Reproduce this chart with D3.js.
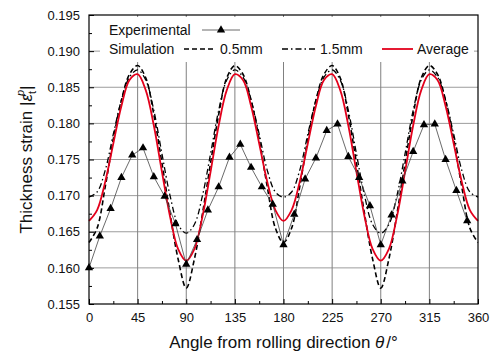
<!DOCTYPE html>
<html>
<head>
<meta charset="utf-8">
<script src="https://cdn.jsdelivr.net/npm/d3@7/dist/d3.min.js"></script>
<style>
  body { margin: 0; background: #fff; }
  text { font-family: "Liberation Sans", Arial, sans-serif; fill: #111; }
</style>
</head>
<body>
<svg id="chart" width="493" height="355"></svg>
<script>
// experimental points, every 10 degrees
const expAngles = [0, 10, 20, 30, 40, 50, 60, 70, 80, 90, 100, 110, 120, 130, 140, 150, 160, 170,
  180, 190, 200, 210, 220, 230, 240, 250, 260, 270, 280, 290, 300, 310, 320, 330, 340, 350];
const expValues = [0.1600, 0.1644, 0.1682, 0.1725, 0.1756, 0.1766, 0.1726, 0.1699, 0.1661, 0.1605,
  0.1639, 0.1680, 0.1712, 0.1753, 0.1771, 0.1739, 0.1712, 0.1688, 0.1632, 0.1674, 0.1723, 0.1752,
  0.1790, 0.1799, 0.1754, 0.1725, 0.1686, 0.1632, 0.1673, 0.1720, 0.1761, 0.1798, 0.1799, 0.1750,
  0.1707, 0.1665];

// simulated curves, read every 7.5 degrees
const simAngles = [0, 7.5, 15, 22.5, 30, 37.5, 45, 52.5, 60, 67.5, 75, 82.5, 90, 97.5, 105, 112.5,
  120, 127.5, 135, 142.5, 150, 157.5, 165, 172.5, 180, 187.5, 195, 202.5, 210, 217.5, 225, 232.5,
  240, 247.5, 255, 262.5, 270, 277.5, 285, 292.5, 300, 307.5, 315, 322.5, 330, 337.5, 345, 352.5, 360];
const sim05 = [0.1635, 0.1655, 0.1712, 0.1778, 0.1832, 0.1868, 0.1880, 0.1863, 0.1812, 0.1745, 0.1675,
  0.1612, 0.1572, 0.1612, 0.1675, 0.1745, 0.1812, 0.1863, 0.1880, 0.1868, 0.1832, 0.1778, 0.1712,
  0.1655, 0.1635, 0.1655, 0.1712, 0.1778, 0.1832, 0.1868, 0.1880, 0.1863, 0.1812, 0.1745, 0.1675,
  0.1612, 0.1572, 0.1612, 0.1675, 0.1745, 0.1812, 0.1863, 0.1880, 0.1868, 0.1832, 0.1778, 0.1712,
  0.1655, 0.1635];
const sim15 = [0.1698, 0.1705, 0.1735, 0.1785, 0.1832, 0.1864, 0.1874, 0.1860, 0.1818, 0.1758, 0.1700,
  0.1660, 0.1648, 0.1660, 0.1700, 0.1758, 0.1818, 0.1860, 0.1874, 0.1864, 0.1832, 0.1785, 0.1735,
  0.1705, 0.1698, 0.1705, 0.1735, 0.1785, 0.1832, 0.1864, 0.1874, 0.1860, 0.1818, 0.1758, 0.1700,
  0.1660, 0.1648, 0.1660, 0.1700, 0.1758, 0.1818, 0.1860, 0.1874, 0.1864, 0.1832, 0.1785, 0.1735,
  0.1705, 0.1698];
const simAvg = [0.1665, 0.1680, 0.1719, 0.1772, 0.1824, 0.1860, 0.1868, 0.1846, 0.1797, 0.1733, 0.1671,
  0.1626, 0.1610, 0.1626, 0.1671, 0.1733, 0.1797, 0.1846, 0.1868, 0.1860, 0.1824, 0.1772, 0.1719,
  0.1680, 0.1665, 0.1680, 0.1719, 0.1772, 0.1824, 0.1860, 0.1868, 0.1846, 0.1797, 0.1733, 0.1671,
  0.1626, 0.1610, 0.1626, 0.1671, 0.1733, 0.1797, 0.1846, 0.1868, 0.1860, 0.1824, 0.1772, 0.1719,
  0.1680, 0.1665];

const xTicks = [0, 45, 90, 135, 180, 225, 270, 315, 360];
const yTicks = [0.155, 0.160, 0.165, 0.170, 0.175, 0.180, 0.185, 0.190, 0.195];

const width = 493, height = 355;
const margin = { top: 15, right: 15, bottom: 51, left: 89 };

const svg = d3.select("#chart");

const x = d3.scaleLinear().domain([0, 360]).range([margin.left, width - margin.right]);
const y = d3.scaleLinear().domain([0.155, 0.195]).range([height - margin.bottom, margin.top]);

// grid
svg.append("g")
  .selectAll("line")
  .data(yTicks.slice(1, -1))
  .join("line")
  .attr("x1", margin.left).attr("x2", width - margin.right)
  .attr("y1", (d) => y(d)).attr("y2", (d) => y(d))
  .attr("stroke", "#9c9c9c").attr("stroke-width", 1);

svg.append("g")
  .selectAll("line")
  .data(xTicks.slice(1, -1))
  .join("line")
  .attr("y1", margin.top).attr("y2", height - margin.bottom)
  .attr("x1", (d) => x(d)).attr("x2", (d) => x(d))
  .attr("stroke", "#808080").attr("stroke-width", 1);

// legend background hides the grid up top
svg.append("rect")
  .attr("x", 100).attr("y", 17).attr("width", 374).attr("height", 45)
  .attr("fill", "#fff");

// curves
const simLine = (vals) => d3.line()
  .x((d, i) => x(simAngles[i]))
  .y((d) => y(d))
  .curve(d3.curveCatmullRom)(vals);

svg.append("path")
  .attr("d", simLine(sim05))
  .attr("fill", "none").attr("stroke", "#000")
  .attr("stroke-width", 1.6).attr("stroke-dasharray", "5,3");

svg.append("path")
  .attr("d", simLine(sim15))
  .attr("fill", "none").attr("stroke", "#000")
  .attr("stroke-width", 1.3).attr("stroke-dasharray", "6,3,1.5,3");

svg.append("path")
  .attr("d", simLine(simAvg))
  .attr("fill", "none").attr("stroke", "#e3001b")
  .attr("stroke-width", 1.8);

const expLine = d3.line()
  .x((d, i) => x(expAngles[i]))
  .y((d) => y(d));

svg.append("path")
  .attr("d", expLine(expValues))
  .attr("fill", "none").attr("stroke", "#444").attr("stroke-width", 0.8);

const tri = d3.symbol().type(d3.symbolTriangle).size(30);
svg.append("g")
  .selectAll("path")
  .data(expValues)
  .join("path")
  .attr("d", tri)
  .attr("transform", (d, i) => `translate(${x(expAngles[i])},${y(d)})`)
  .attr("fill", "#000");

// axes
const xAxis = (g) =>
  g.attr("transform", `translate(0,${height - margin.bottom})`)
    .call(d3.axisBottom(x).tickValues(xTicks).tickSize(-5).tickPadding(9).tickFormat(d3.format("d")))
    .call((g) => g.select(".domain").remove())
    .call((g) => g.selectAll(".tick line").attr("stroke", "#000"))
    .call((g) => g.selectAll(".tick text").attr("font-size", 13).attr("font-family", '"Liberation Sans", Arial, sans-serif'));
svg.append("g").call(xAxis);

svg.append("g")
  .attr("transform", `translate(0,${height - margin.bottom})`)
  .call(d3.axisBottom(x).tickValues([22.5, 67.5, 112.5, 157.5, 202.5, 247.5, 292.5, 337.5]).tickSize(-3).tickFormat(""))
  .call((g) => g.select(".domain").remove());

const yAxis = (g) =>
  g.attr("transform", `translate(${margin.left},0)`)
    .call(d3.axisLeft(y).tickValues(yTicks).tickSize(-5).tickPadding(9).tickFormat(d3.format(".3f")))
    .call((g) => g.select(".domain").remove())
    .call((g) => g.selectAll(".tick text").attr("font-size", 13).attr("font-family", '"Liberation Sans", Arial, sans-serif'));
svg.append("g").call(yAxis);

svg.append("g")
  .attr("transform", `translate(${margin.left},0)`)
  .call(d3.axisLeft(y).tickValues([0.1575, 0.1625, 0.1675, 0.1725, 0.1775, 0.1825, 0.1875, 0.1925]).tickSize(-3).tickFormat(""))
  .call((g) => g.select(".domain").remove());

// frame
svg.append("rect")
  .attr("x", margin.left).attr("y", margin.top)
  .attr("width", width - margin.left - margin.right)
  .attr("height", height - margin.top - margin.bottom)
  .attr("fill", "none").attr("stroke", "#000").attr("stroke-width", 1.2);

// axis titles
const xTitle = svg.append("text")
  .attr("x", (margin.left + width - margin.right) / 2).attr("y", 348)
  .attr("text-anchor", "middle").attr("font-size", 17);
xTitle.append("tspan").text("Angle from rolling direction ");
xTitle.append("tspan").attr("font-style", "italic").text("θ");
xTitle.append("tspan").attr("dx", 2).text("/°");

const yTitle = svg.append("text")
  .attr("transform", `translate(32,${(margin.top + height - margin.bottom) / 2}) rotate(-90)`)
  .attr("text-anchor", "middle").attr("font-size", 17);
yTitle.append("tspan").text("Thickness strain |");
yTitle.append("tspan").attr("font-style", "italic").text("ε");
yTitle.append("tspan").attr("font-size", 11).attr("dy", 4).text("t");
yTitle.append("tspan").attr("font-size", 11).attr("dx", -5).attr("dy", -12).attr("font-style", "italic").text("p");
yTitle.append("tspan").attr("dy", 8).text("|");

// legend
const lg = svg.append("g").attr("font-size", 14);
lg.append("text").attr("x", 109).attr("y", 35).text("Experimental");
lg.append("line").attr("x1", 202).attr("x2", 240).attr("y1", 30).attr("y2", 30)
  .attr("stroke", "#444").attr("stroke-width", 0.8);
lg.append("path").attr("d", tri).attr("transform", "translate(221,30)").attr("fill", "#000");

lg.append("text").attr("x", 109).attr("y", 54).text("Simulation");
lg.append("line").attr("x1", 184).attr("x2", 213).attr("y1", 49).attr("y2", 49)
  .attr("stroke", "#000").attr("stroke-width", 1.6).attr("stroke-dasharray", "5,3");
lg.append("text").attr("x", 220).attr("y", 54).text("0.5mm");
lg.append("line").attr("x1", 282).attr("x2", 315).attr("y1", 49).attr("y2", 49)
  .attr("stroke", "#000").attr("stroke-width", 1.3).attr("stroke-dasharray", "6,3,1.5,3");
lg.append("text").attr("x", 320).attr("y", 54).text("1.5mm");
lg.append("line").attr("x1", 382).attr("x2", 413).attr("y1", 49).attr("y2", 49)
  .attr("stroke", "#e3001b").attr("stroke-width", 1.8);
lg.append("text").attr("x", 417).attr("y", 54).text("Average");
</script>
</body>
</html>
